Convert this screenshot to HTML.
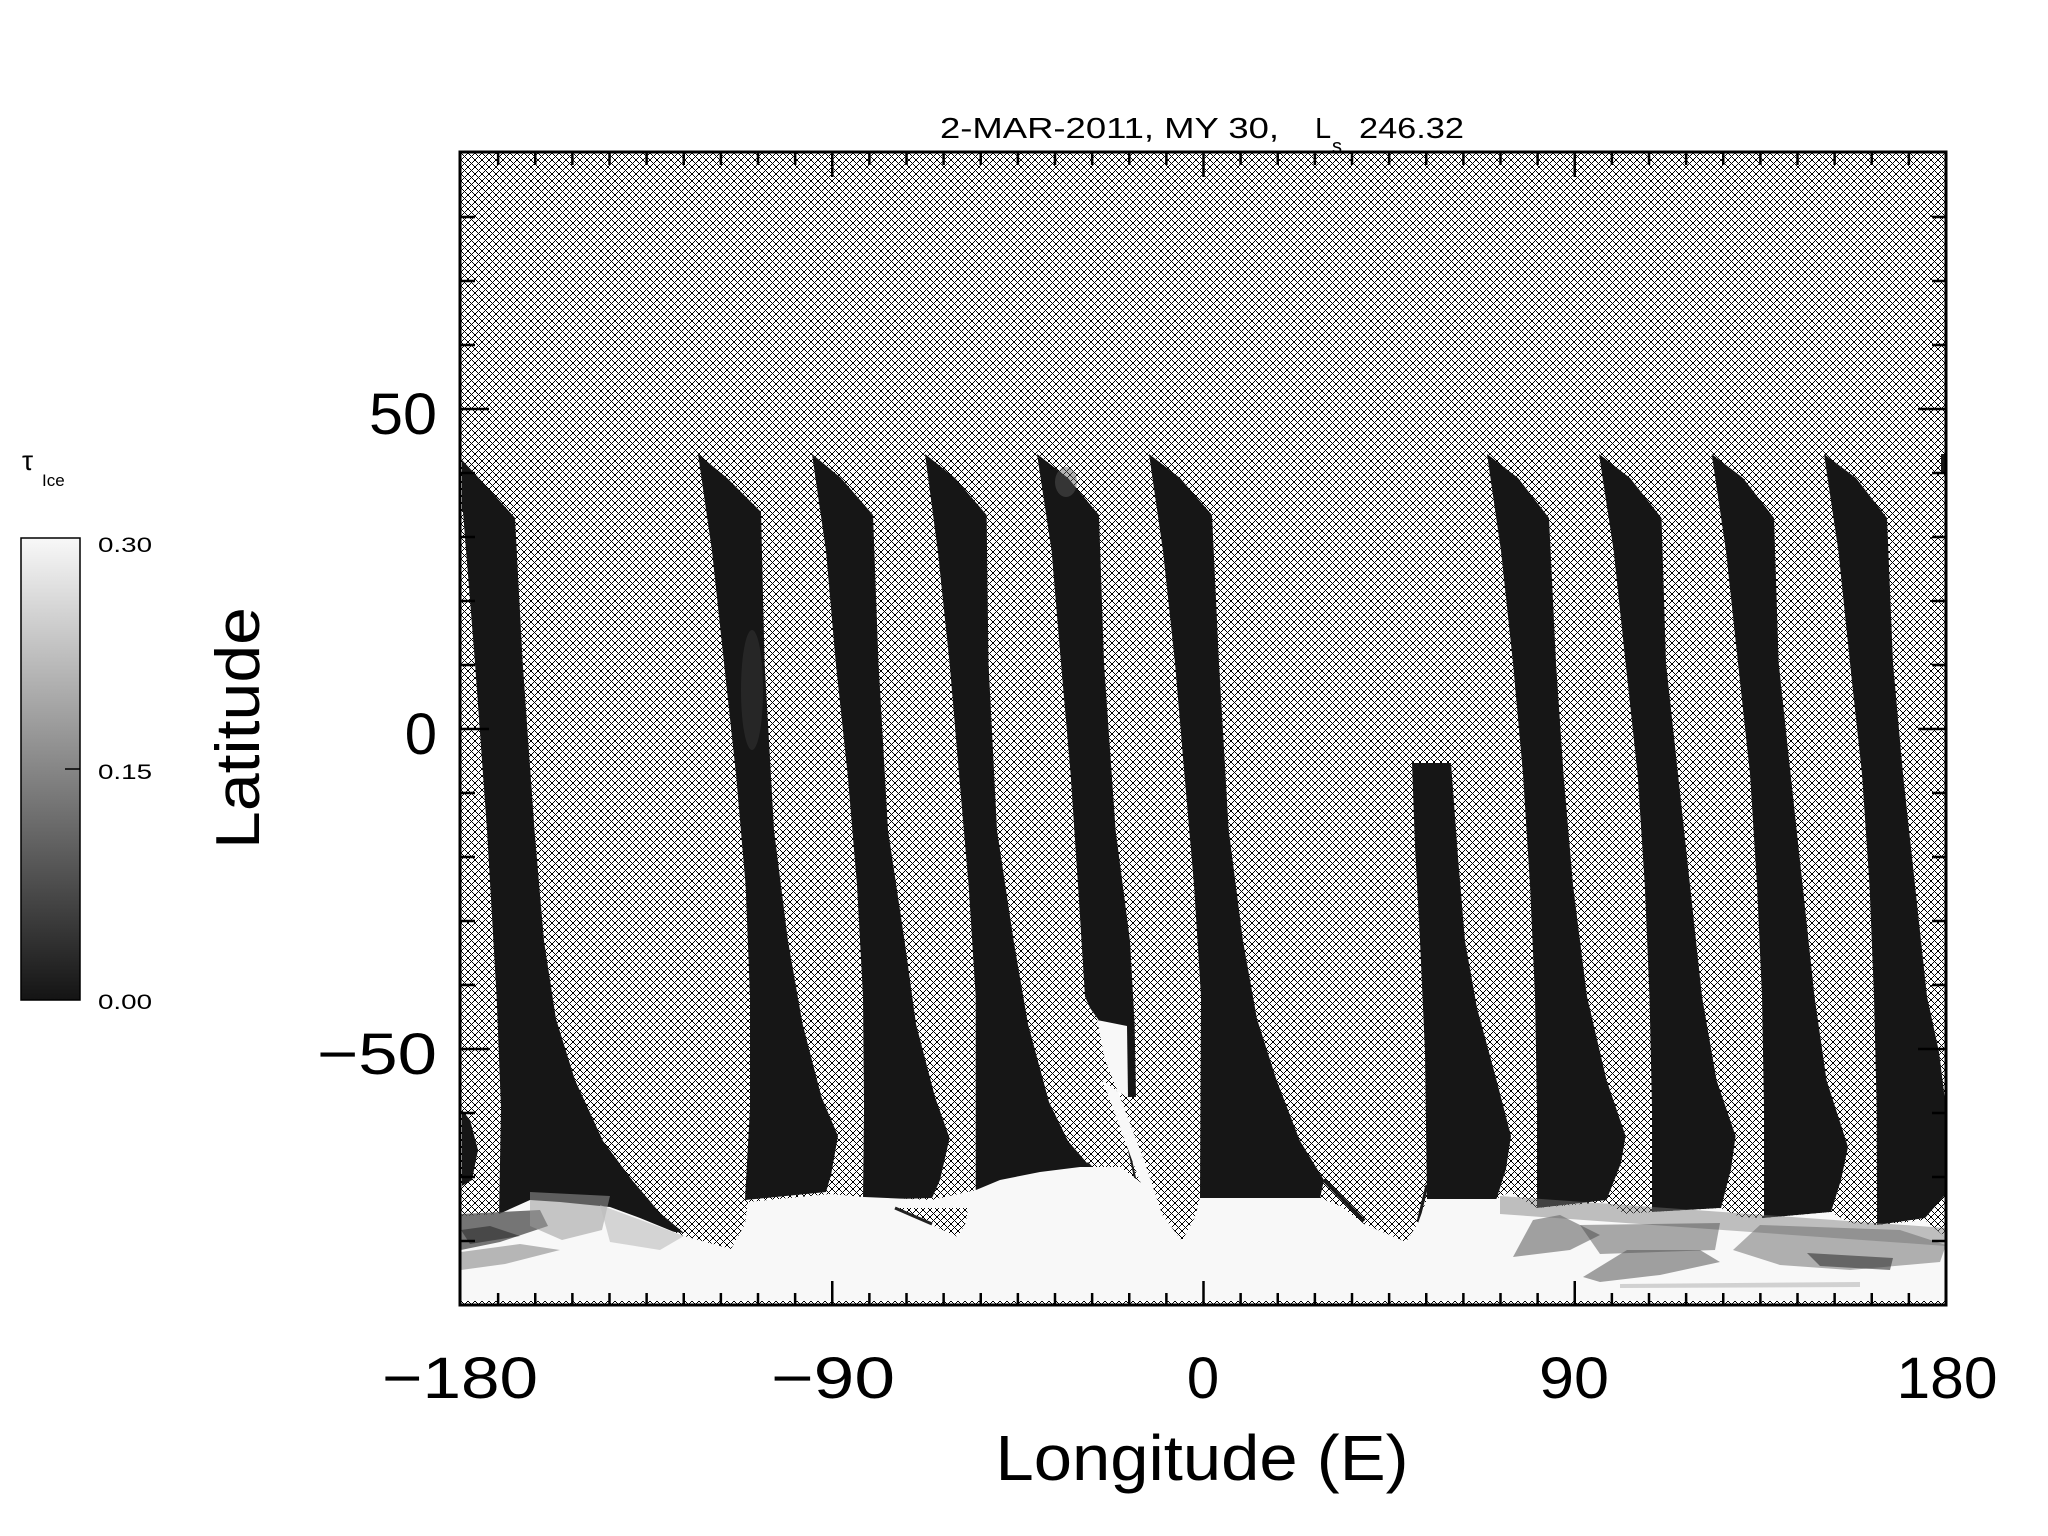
<!DOCTYPE html>
<html>
<head>
<meta charset="utf-8">
<style>
html,body{margin:0;padding:0;background:#fff;}
body{width:2048px;height:1536px;overflow:hidden;}
svg{display:block;}
text{font-family:"Liberation Sans","DejaVu Sans",sans-serif;fill:#000;}
</style>
</head>
<body>
<svg width="2048" height="1536" viewBox="0 0 2048 1536" xmlns="http://www.w3.org/2000/svg">
<defs>
  <pattern id="h" x="461" y="153" width="7" height="7" patternUnits="userSpaceOnUse">
    <rect width="7" height="7" fill="#fff"/>
    <g fill="#000" shape-rendering="crispEdges">
      <rect x="0" y="0" width="1" height="1"/>
      <rect x="1" y="1" width="1" height="1"/>
      <rect x="2" y="2" width="1" height="1"/>
      <rect x="3" y="3" width="1" height="1"/>
      <rect x="4" y="4" width="1" height="1"/>
      <rect x="5" y="5" width="1" height="1"/>
      <rect x="6" y="6" width="1" height="1"/>
      <rect x="6" y="0" width="1" height="1"/>
      <rect x="5" y="1" width="1" height="1"/>
      <rect x="4" y="2" width="1" height="1"/>
      <rect x="2" y="4" width="1" height="1"/>
      <rect x="1" y="5" width="1" height="1"/>
      <rect x="0" y="6" width="1" height="1"/>
    </g>
  </pattern>
  <linearGradient id="cb" x1="0" y1="0" x2="0" y2="1">
    <stop offset="0" stop-color="#f8f8f8"/>
    <stop offset="1" stop-color="#141414"/>
  </linearGradient>
</defs>
<rect width="2048" height="1536" fill="#fff"/>

<!-- hatched background of plot -->
<rect x="461" y="153" width="1485" height="1152" fill="url(#h)" shape-rendering="crispEdges"/>

<!-- swaths -->
<g fill="#161616">
<polygon points="462,460 490,490 515,518 522.7,663 534.5,830 544,941 556,1019 575,1080 603,1141 632,1180 660,1213 684,1233 640,1228 560,1218 499,1218 501,1108 496.6,996.5 487,830 475,663 463,512 462,512"/>
<polygon points="462,1110 470,1120 478,1150 472,1180 462,1186"/>
<polygon points="698,454 727,478 761,512 764.6,663 774,830 788,941 802.6,1024 821.5,1097 838,1136 831,1175 826,1192 745,1200 750,1108 750,996 745.6,885 736,774 724,663 712,551"/>
<polygon points="812,454 841,478 873,515 878.5,663 888,830 904.6,941 916,1024 935,1097 949.6,1138 940,1180 932,1198 863,1200 864,1108 863,996.5 857,885 847.6,774 835.8,663 826,551"/>
<polygon points="925,454 955,478 986.6,515 988.5,663 997,830 1013.7,941 1028,1024 1049,1102 1068,1141 1087,1163 1100,1178 975.7,1190 975.7,1108 975.7,996.5 968.6,885 959,774 949.6,663 937.8,551"/>
<polygon points="1037,454 1068,478 1099,515 1104,663 1115.6,830 1130,941 1134.6,1024 1136,1097 1127,1097 1126,1028 1100,1022 1090,1008 1085,996.5 1078,885 1070.6,774 1061,663 1051.6,551"/>
<polygon points="1149,454 1180,478 1212,515 1219,663 1228.7,830 1243,941 1257,1019 1276.5,1080 1300,1141 1324,1180 1320,1198 1200,1198 1201,996.5 1194,885 1184.4,774 1175,663 1163,551"/>
<polygon points="1412,763 1451,763 1458,857 1465,941 1477,1008 1496.5,1080 1511,1136 1506,1169 1496.5,1199 1427,1199 1425,1052 1420,941 1415,846"/>
<polygon points="1487,454 1518,478 1549,518 1556,663 1563.5,774 1573,885 1587,996.5 1606.5,1080 1625.6,1136 1621,1163 1606.5,1200 1537,1208 1537,1108 1535,996.5 1530,885 1523,774 1513,663 1501,551"/>
<polygon points="1599,454 1630,478 1661.5,518 1666,663 1678,774 1690,885 1702,996.5 1716.5,1080 1735.6,1136 1731,1169 1721,1208 1652,1212 1652,1108 1649.5,996.5 1644.8,885 1637.6,774 1625.6,663 1613.7,551"/>
<polygon points="1711.7,454 1743,478 1774,518 1778.7,663 1790.6,774 1802.6,885 1814.5,996.5 1826.5,1080 1848,1147 1841,1180 1831,1212 1764,1218 1764,1108 1762,996.5 1757,885 1750,774 1738,663 1726,551"/>
<polygon points="1824,454 1856,478 1887,518 1893,663 1903,774 1915,885 1927,996.5 1939,1052 1945,1100 1945,1195 1925,1218 1877,1225 1876.7,1108 1874,996.5 1869.5,885 1862,774 1850,663 1838.4,551"/>
<rect x="1941" y="454" width="5" height="20"/>
</g>

<!-- lighter patches in swaths -->
<ellipse cx="752" cy="690" rx="11" ry="60" fill="#444" opacity="0.35"/>
<ellipse cx="1066" cy="482" rx="11" ry="15" fill="#5a5a5a" opacity="0.45"/>

<!-- thin dark tails -->
<g stroke="#1a1a1a" fill="none">
<path d="M1087,1163 L1139,1219" stroke-width="3"/>
<path d="M1116,1091 L1144,1219" stroke-width="2"/>
<path d="M1324,1180 L1364,1221" stroke-width="4"/>
<path d="M1427,1185 L1418,1222" stroke-width="3"/>
</g>

<!-- white streak right of S5 -->
<polygon fill="#f8f8f8" points="1102,1080 1118,1092 1144,1160 1170,1238 1160,1234 1132,1160 1110,1100"/>

<!-- bright south polar region -->
<polygon fill="#f8f8f8" points="461,1216 499,1214 530,1200 560,1202 610,1207 640,1218 684,1236 731,1249 745,1224 748,1202 830,1194 864,1197 932,1200 976,1190 1000,1180 1040,1172 1080,1167 1120,1167 1140,1182 1160,1212 1182,1241 1195,1217 1200,1198 1320,1198 1340,1206 1364,1224 1406,1242 1418,1223 1427,1199 1496,1199 1510,1192 1537,1208 1606,1202 1625,1214 1652,1212 1721,1208 1740,1217 1764,1218 1831,1212 1850,1223 1877,1225 1925,1220 1946,1238 1946,1301 461,1301"/>

<!-- white blob in S5 -->
<polygon fill="#f8f8f8" points="1097,1020 1127,1026 1128,1097 1118,1092 1105,1060"/>

<!-- hatch triangle inside white -->
<polygon fill="url(#h)" points="895,1208 968,1208 966,1222 958,1237" shape-rendering="crispEdges"/>
<path d="M895,1208 L932,1224" stroke="#222" stroke-width="3"/>

<!-- mottled bottom-left -->
<g>
<polygon points="461,1214 540,1210 548,1226 500,1242 461,1250" fill="#4a4a4a" opacity="0.75"/>
<polygon points="461,1252 520,1244 560,1250 505,1264 461,1270" fill="#8a8a8a" opacity="0.6"/>
<polygon points="530,1192 610,1196 602,1230 562,1240 530,1226" fill="#9a9a9a" opacity="0.55"/>
<polygon points="600,1205 684,1236 660,1250 610,1242" fill="#bdbdbd" opacity="0.6"/>
<polygon points="461,1230 490,1226 520,1236 470,1244" fill="#2a2a2a" opacity="0.6"/>
</g>

<!-- mottled bottom-right -->
<g>
<polygon points="1500,1196 1946,1228 1946,1246 1500,1214" fill="#777" opacity="0.45"/>
<polygon points="1513,1257 1533,1220 1560,1215 1600,1235 1570,1250" fill="#666" opacity="0.6"/>
<polygon points="1580,1225 1720,1223 1715,1250 1600,1254" fill="#444" opacity="0.45"/>
<polygon points="1583,1277 1627,1250 1700,1250 1720,1262 1660,1275 1600,1282" fill="#555" opacity="0.55"/>
<polygon points="1733,1250 1760,1225 1900,1230 1946,1245 1940,1262 1850,1270 1780,1265" fill="#666" opacity="0.5"/>
<polygon points="1807,1253 1893,1258 1890,1270 1820,1266" fill="#333" opacity="0.6"/>
<polygon points="1620,1284 1860,1282 1860,1287 1620,1288" fill="#aaa" opacity="0.5"/>
</g>

<!-- frame -->
<rect x="460" y="152" width="1486" height="1153" fill="none" stroke="#000" stroke-width="3"/>

<!-- ticks -->
<g stroke="#000" stroke-width="2.5" fill="none">
<path d="M498.125,1305V1293M535.25,1305V1293M572.375,1305V1293M609.5,1305V1293M646.625,1305V1293M683.75,1305V1293M720.875,1305V1293M758,1305V1293M795.125,1305V1293M869.375,1305V1293M906.5,1305V1293M943.625,1305V1293M980.75,1305V1293M1017.875,1305V1293M1055,1305V1293M1092.125,1305V1293M1129.25,1305V1293M1166.375,1305V1293M1240.625,1305V1293M1277.75,1305V1293M1314.875,1305V1293M1352,1305V1293M1389.125,1305V1293M1426.25,1305V1293M1463.375,1305V1293M1500.5,1305V1293M1537.625,1305V1293M1611.875,1305V1293M1649,1305V1293M1686.125,1305V1293M1723.25,1305V1293M1760.375,1305V1293M1797.5,1305V1293M1834.625,1305V1293M1871.75,1305V1293M1908.875,1305V1293"/>
<path d="M832.25,1305V1281M1203.5,1305V1281M1574.75,1305V1281"/>
<path d="M498.125,153V165M535.25,153V165M572.375,153V165M609.5,153V165M646.625,153V165M683.75,153V165M720.875,153V165M758,153V165M795.125,153V165M869.375,153V165M906.5,153V165M943.625,153V165M980.75,153V165M1017.875,153V165M1055,153V165M1092.125,153V165M1129.25,153V165M1166.375,153V165M1240.625,153V165M1277.75,153V165M1314.875,153V165M1352,153V165M1389.125,153V165M1426.25,153V165M1463.375,153V165M1500.5,153V165M1537.625,153V165M1611.875,153V165M1649,153V165M1686.125,153V165M1723.25,153V165M1760.375,153V165M1797.5,153V165M1834.625,153V165M1871.75,153V165M1908.875,153V165"/>
<path d="M832.25,153V177M1203.5,153V177M1574.75,153V177"/>
<path d="M461,217H475M461,281H475M461,345H475M461,473H475M461,537H475M461,601H475M461,665H475M461,793H475M461,857H475M461,921H475M461,985H475M461,1113H475M461,1177H475M461,1241H475"/>
<path d="M461,409H489M461,729H489M461,1049H489"/>
<path d="M1946,217H1932M1946,281H1932M1946,345H1932M1946,473H1932M1946,537H1932M1946,601H1932M1946,665H1932M1946,793H1932M1946,857H1932M1946,921H1932M1946,985H1932M1946,1113H1932M1946,1177H1932M1946,1241H1932"/>
<path d="M1946,409H1918M1946,729H1918M1946,1049H1918"/>
</g>

<!-- title -->
<text x="940" y="138" font-size="29" textLength="339" lengthAdjust="spacingAndGlyphs">2-MAR-2011, MY 30,</text>
<text x="1315" y="138" font-size="29">L</text>
<text x="1332" y="153" font-size="20">s</text>
<text x="1359" y="138" font-size="29" textLength="105" lengthAdjust="spacingAndGlyphs">246.32</text>

<!-- y tick labels -->
<text x="437" y="434" font-size="58" text-anchor="end" textLength="68" lengthAdjust="spacingAndGlyphs">50</text>
<text x="437" y="754" font-size="58" text-anchor="end">0</text>
<text x="437" y="1074" font-size="58" text-anchor="end" textLength="120" lengthAdjust="spacingAndGlyphs">−50</text>

<!-- x tick labels -->
<text x="460" y="1398" font-size="58" text-anchor="middle" textLength="156" lengthAdjust="spacingAndGlyphs">−180</text>
<text x="833" y="1398" font-size="58" text-anchor="middle" textLength="124" lengthAdjust="spacingAndGlyphs">−90</text>
<text x="1203" y="1398" font-size="58" text-anchor="middle">0</text>
<text x="1574" y="1398" font-size="58" text-anchor="middle" textLength="70" lengthAdjust="spacingAndGlyphs">90</text>
<text x="1947" y="1398" font-size="58" text-anchor="middle" textLength="101" lengthAdjust="spacingAndGlyphs">180</text>

<!-- axis titles -->
<text x="1202" y="1480" font-size="64" text-anchor="middle" textLength="413" lengthAdjust="spacingAndGlyphs">Longitude (E)</text>
<text transform="translate(259,728) rotate(-90)" x="0" y="0" font-size="62" text-anchor="middle" textLength="242" lengthAdjust="spacingAndGlyphs">Latitude</text>

<!-- colorbar -->
<rect x="21" y="538" width="59" height="462" fill="url(#cb)" stroke="#000" stroke-width="1.5"/>
<path d="M65,769H80" stroke="#000" stroke-width="1.5"/>
<text x="98" y="552" font-size="21" textLength="54" lengthAdjust="spacingAndGlyphs">0.30</text>
<text x="98" y="779" font-size="21" textLength="54" lengthAdjust="spacingAndGlyphs">0.15</text>
<text x="98" y="1009" font-size="21" textLength="54" lengthAdjust="spacingAndGlyphs">0.00</text>
<text x="22" y="470" font-size="28">τ</text>
<text x="42" y="486" font-size="17">Ice</text>
</svg>
</body>
</html>
